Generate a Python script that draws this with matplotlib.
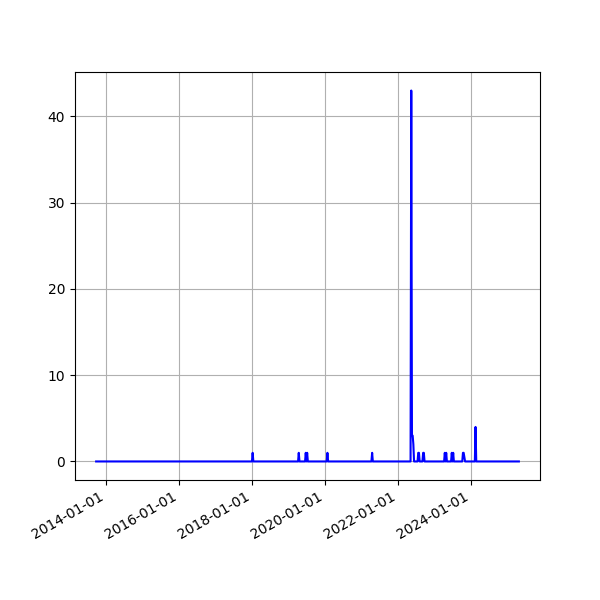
import matplotlib
matplotlib.use("Agg")
import matplotlib.pyplot as plt
import matplotlib.dates as mdates
import pandas as pd
import numpy as np

start_date = "2013-09-22"
end_date = "2025-04-27"

event_dates = [
    "2018-01-07",
    "2019-04-14",
    "2019-06-23", "2019-06-30", "2019-07-07",
    "2020-01-26",
    "2021-04-18",
    "2022-05-15", "2022-05-22", "2022-05-29", "2022-06-05",
    "2022-07-24", "2022-07-31",
    "2022-09-11", "2022-09-18",
    "2023-04-16", "2023-04-23", "2023-04-30",
    "2023-06-25", "2023-07-02", "2023-07-09",
    "2023-10-15", "2023-10-22", "2023-10-29",
    "2024-02-18",
]
event_values = [
    1,
    1,
    1, 0, 1,
    1,
    1,
    43, 3, 3, 2,
    1, 1,
    1, 1,
    1, 0, 1,
    1, 0, 1,
    1, 1, 0.5,
    4,
]

weeks = pd.date_range(start_date, end_date, freq="W-SUN")
series = pd.Series(0.0, index=weeks)
for d, v in zip(event_dates, event_values):
    series.loc[pd.Timestamp(d)] = v

fig, ax = plt.subplots(figsize=(6, 6), dpi=100)
ax.plot(series.index, series.values, color="blue")
ax.grid(True)
ax.xaxis.set_major_locator(mdates.YearLocator(2))
ax.xaxis.set_major_formatter(mdates.DateFormatter("%Y-%m-%d"))
fig.autofmt_xdate()
fig.savefig("out.png")
